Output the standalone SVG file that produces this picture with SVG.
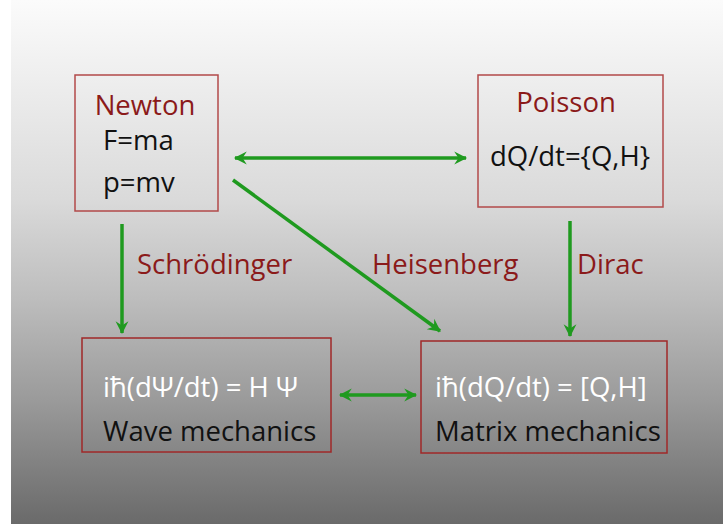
<svg xmlns="http://www.w3.org/2000/svg" width="723" height="524" viewBox="0 0 723 524">
<defs>
<linearGradient id="bg" x1="0" y1="0" x2="0" y2="1">
<stop offset="0" stop-color="#fbfbfb"/>
<stop offset="0.15" stop-color="#eeeeee"/>
<stop offset="0.38" stop-color="#dadada"/>
<stop offset="0.57" stop-color="#bdbdbd"/>
<stop offset="0.76" stop-color="#9b9b9b"/>
<stop offset="1" stop-color="#6a6a6a"/>
</linearGradient>
<marker id="ah" viewBox="0 0 14 14" refX="12" refY="7" markerWidth="15" markerHeight="15" markerUnits="userSpaceOnUse" orient="auto-start-reverse">
<path d="M1,1 L13,7 L1,13 L5,7 z" fill="#1f9a1f"/>
</marker>
<style>
.box{fill:none;stroke:#b24a4a;stroke-width:1.5}
.boxd{fill:none;stroke:#a02828;stroke-width:1.5}
.t{font-family:"Open Sans","Liberation Sans",sans-serif;font-size:27.5px}
.red{fill:#8b1a1a}
.blk{fill:#111}
.wht{fill:#fff}
.c{stroke:#1f9a1f;stroke-width:3.5;fill:none}
</style>
</defs>
<rect x="0" y="0" width="723" height="524" fill="#ffffff"/>
<rect x="11" y="0" width="712" height="524" fill="url(#bg)"/>
<g id="connectors">
<path class="c" d="M235,158 L466,158" marker-start="url(#ah)" marker-end="url(#ah)"/>
<path class="c" d="M233,180 L440,331" marker-end="url(#ah)"/>
<path class="c" d="M122,224 L122,333" marker-end="url(#ah)"/>
<path class="c" d="M570,221 L570,336" marker-end="url(#ah)"/>
<path class="c" d="M340,395 L416,395" marker-start="url(#ah)" marker-end="url(#ah)"/>
</g>
<g id="newton">
<rect class="box" x="75" y="75" width="143" height="136"/>
<text class="t red" x="145" y="115" text-anchor="middle">Newton</text>
<text class="t blk" x="103" y="150">F=ma</text>
<text class="t blk" x="103" y="192">p=mv</text>
</g>
<g id="poisson">
<rect class="box" x="478" y="75" width="185" height="132"/>
<text class="t red" x="566" y="112" text-anchor="middle">Poisson</text>
<text class="t blk" x="570" y="166" text-anchor="middle">dQ/dt={Q,H}</text>
</g>
<g id="wave">
<rect class="boxd" x="82" y="338" width="249" height="114"/>
<text class="t wht" x="103" y="397">iħ(dΨ/dt) = H Ψ</text>
<text class="t blk" x="103" y="441">Wave mechanics</text>
</g>
<g id="matrix">
<rect class="boxd" x="421" y="341" width="246" height="112"/>
<text class="t wht" x="435" y="397">iħ(dQ/dt) = [Q,H]</text>
<text class="t blk" x="435" y="441">Matrix mechanics</text>
</g>
<g id="labels">
<text class="t red" x="137" y="274">Schrödinger</text>
<text class="t red" x="372" y="274">Heisenberg</text>
<text class="t red" x="577" y="274">Dirac</text>
</g>
</svg>
